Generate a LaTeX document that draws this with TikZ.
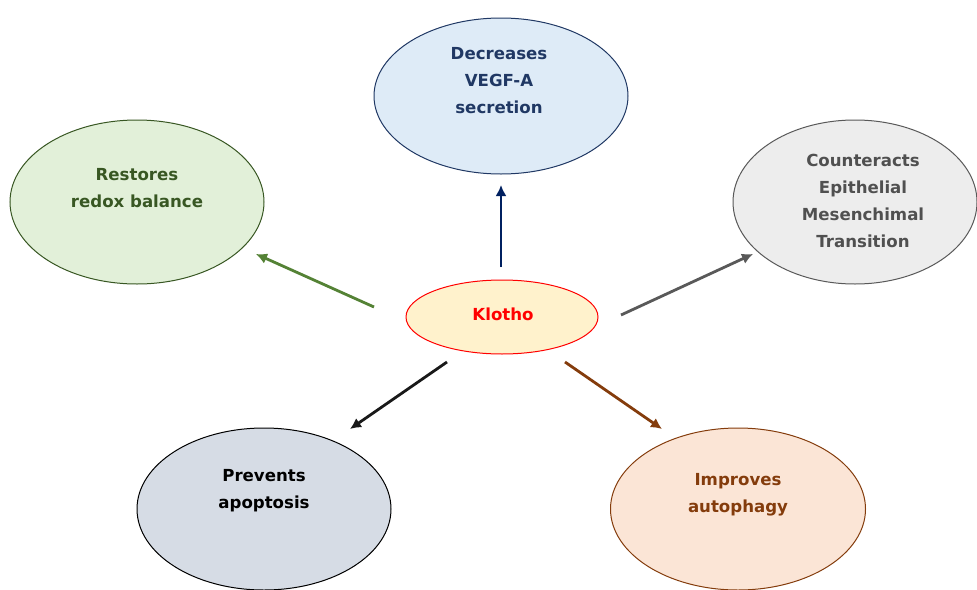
\documentclass[tikz,border=0pt]{standalone}
\usepackage{fontspec}
\setmainfont{DejaVu Sans}
\usetikzlibrary{shapes.geometric,arrows.meta}
\definecolor{kfill}{HTML}{FFF2CC}
\definecolor{bfill}{HTML}{DEEBF7}
\definecolor{bdraw}{HTML}{203864}
\definecolor{gfill}{HTML}{E2F0D9}
\definecolor{gdraw}{HTML}{385723}
\definecolor{garrow}{HTML}{548235}
\definecolor{yfill}{HTML}{EDEDED}
\definecolor{ydraw}{HTML}{595959}
\definecolor{ytext}{HTML}{505050}
\definecolor{sfill}{HTML}{D6DCE5}
\definecolor{ofill}{HTML}{FBE5D6}
\definecolor{odraw}{HTML}{843C0C}
\definecolor{barrow}{HTML}{002060}
\tikzset{
  oval/.style={ellipse, line width=1pt, inner sep=0pt},
  lbl/.style={align=center, font=\fontsize{16.6}{27}\selectfont\bfseries},
  arr/.style={line width=2.8pt, -{Latex[length=11pt,width=11pt]}}
}
\begin{document}
\begin{tikzpicture}[x=1pt,y=-1pt]
\useasboundingbox (0,0) rectangle (977,589);
% ellipses
\node[oval, draw=red, fill=kfill, minimum width=192pt, minimum height=74pt] (klotho) at (502,317) {};
\node[lbl, text=red] (klothot) at (503,314) {Klotho};
\node[oval, draw=bdraw, fill=bfill, minimum width=254pt, minimum height=156pt] (top) at (501,96) {};
\node[lbl, text=bdraw] (topt) at (499,81) {Decreases\\VEGF-A\\secretion};
\node[oval, draw=gdraw, fill=gfill, minimum width=254pt, minimum height=164pt] (green) at (137,202) {};
\node[lbl, text=gdraw] (greent) at (137,188) {Restores\\redox balance};
\node[oval, draw=ydraw, fill=yfill, minimum width=244pt, minimum height=164pt] (grey) at (855,202) {};
\node[lbl, text=ytext] (greyt) at (863,201) {Counteracts\\Epithelial\\Mesenchimal\\Transition};
\node[oval, draw=black, fill=sfill, minimum width=254pt, minimum height=162pt] (slate) at (264,509) {};
\node[lbl, text=black] (slatet) at (264,491) {Prevents\\apoptosis};
\node[oval, draw=odraw, fill=ofill, minimum width=255pt, minimum height=162pt] (orange) at (738,509) {};
\node[lbl, text=odraw] (oranget) at (738,495) {Improves\\autophagy};
% arrow end points
\coordinate (gs) at (374,307); \coordinate (ge) at (256,254);
\coordinate (bs) at (501,267); \coordinate (be) at (501,185);
\coordinate (ys) at (621,315); \coordinate (ye) at (753,254);
\coordinate (ss) at (447,362); \coordinate (se) at (350,429);
\coordinate (os) at (565,362); \coordinate (oe) at (662,429);
\draw[arr, draw=garrow, fill=garrow] (gs) -- (ge);
\draw[arr, draw=barrow, fill=barrow] (bs) -- (be);
\draw[arr, draw=ydraw, fill=ydraw] (ys) -- (ye);
\draw[arr, draw=black!90, fill=black!90] (ss) -- (se);
\draw[arr, draw=odraw, fill=odraw] (os) -- (oe);
\end{tikzpicture}
\end{document}
